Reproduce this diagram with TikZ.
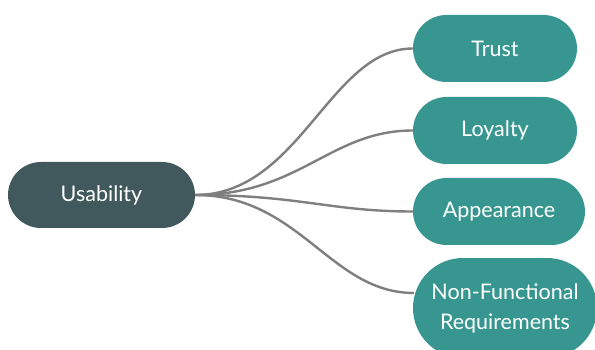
\documentclass[tikz,border=0pt]{standalone}
\usepackage{fontspec}
\setmainfont{Lato}
\usetikzlibrary{shapes.misc}
\definecolor{rootfill}{HTML}{41595D}
\definecolor{leaffill}{HTML}{379690}
\definecolor{linkgray}{HTML}{7F7F7F}
\tikzset{
  pill/.style={rounded rectangle, draw=none, text=white, align=center,
    font=\fontsize{21.5}{30}\selectfont, inner sep=0pt},
  rootnode/.style={pill, fill=rootfill, minimum width=187pt, minimum height=66pt},
  leafnode/.style={pill, fill=leaffill, minimum height=67pt},
  link/.style={draw=linkgray, line width=2.4pt}
}
\begin{document}
\begin{tikzpicture}[x=1pt,y=-1pt]
  \useasboundingbox (0,0) rectangle (595,350);
  \begin{scope}
    \clip (0,0) rectangle (595,350);
    \node[rootnode] (root) at (101.5,195) {Usability};
    \node[leafnode, minimum width=164pt] (trust) at (495,48.5) {Trust};
    \node[leafnode, minimum width=164pt] (loyalty) at (495,130.5) {Loyalty};
    \node[leafnode, minimum width=172pt] (appear) at (499,211.5) {Appearance};
    \node[leafnode, minimum width=184pt, minimum height=100pt] (nfr) at (505,308)
      {Non-Functional\\Requirements};
    \coordinate (nfrin) at (414,293);
    \draw[link] (root.east) .. controls (300,195) and (330,48.5) .. (trust.west);
    \draw[link] (root.east) .. controls (300,195) and (330,130.5) .. (loyalty.west);
    \draw[link] (root.east) .. controls (300,195) and (330,211.5) .. (appear.west);
    \draw[link] (root.east) .. controls (300,195) and (330,293) .. (nfrin);
  \end{scope}
\end{tikzpicture}
\end{document}
